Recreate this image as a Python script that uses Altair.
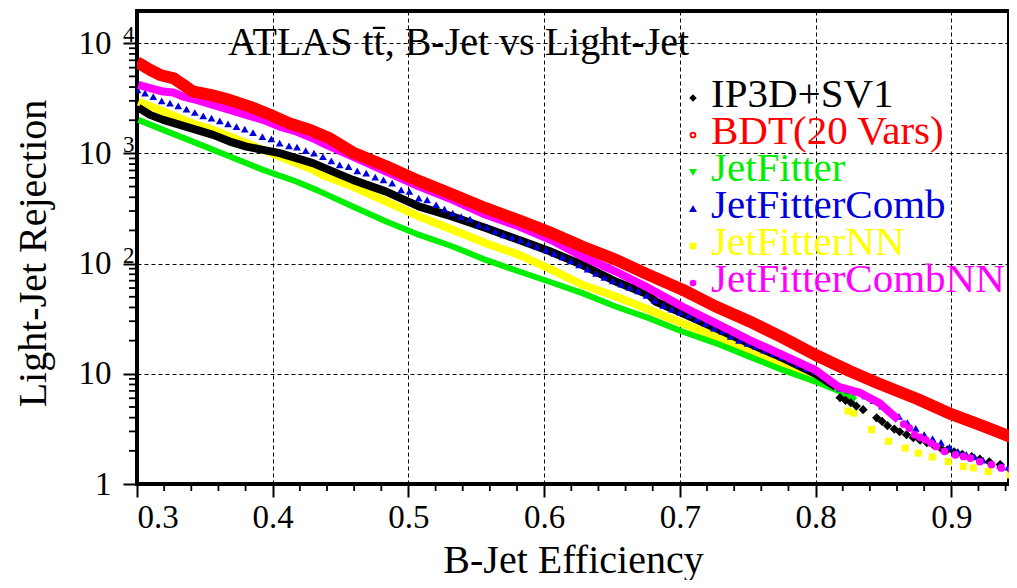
import altair as alt
import pandas as pd

FONT = "Liberation Serif"

# ---------------- data ----------------
# IP3D+SV1 (black): dense band, then sparse diamonds in the tail
ip3d_x = [0.301, 0.3096, 0.3193, 0.3316, 0.3439, 0.3561, 0.3684, 0.3806, 0.3929, 0.4051,
          0.4174, 0.4296, 0.4383, 0.459, 0.4836, 0.508, 0.5326, 0.557, 0.5816, 0.6037,
          0.628, 0.6527, 0.6772, 0.682, 0.7017, 0.7263, 0.7507, 0.7752, 0.800, 0.815]
ip3d_y = [2600, 2237, 2015, 1815, 1636, 1473, 1281, 1153, 1077, 1005,
          905, 816, 735, 575, 450, 329, 267, 210, 164, 130,
          97.5, 68.8, 52.2, 45.3, 35.6, 26.0, 19.0, 14.0, 10.0, 7.6]
ip3d_tail_x = [0.818, 0.822, 0.826, 0.830, 0.835, 0.845, 0.849, 0.853, 0.858, 0.862, 0.867,
               0.872, 0.877, 0.882, 0.887, 0.892, 0.897, 0.902, 0.908, 0.915, 0.921, 0.928,
               0.936, 0.945]
ip3d_tail_y = [6.07, 5.75, 5.46, 5.1, 4.72, 3.99, 3.7, 3.38, 3.15, 2.98, 2.8,
               2.63, 2.5, 2.37, 2.25, 2.13, 2.04, 1.96, 1.86, 1.77, 1.68, 1.59,
               1.5, 1.41]

# BDT(20 Vars) (red)
bdt_x = [0.300, 0.305, 0.310, 0.317, 0.327, 0.334, 0.341, 0.354, 0.368, 0.383,
         0.398, 0.412, 0.427, 0.442, 0.459, 0.484, 0.508, 0.533, 0.557, 0.582,
         0.606, 0.628, 0.653, 0.677, 0.702, 0.726, 0.751, 0.775, 0.800, 0.825,
         0.846, 0.875, 0.900, 0.925, 0.948]
bdt_y = [6700, 6200, 5700, 5150, 4800, 4200, 3650, 3400, 3060, 2660,
         2240, 1880, 1640, 1370, 1020, 760, 560, 421, 318, 245,
         188, 143, 108, 79, 58, 41, 30, 21.5, 14.8, 10.6,
         8.2, 5.9, 4.3, 3.3, 2.55]

# JetFitter (green)
jf_x = [0.301, 0.3193, 0.3439, 0.3684, 0.3929, 0.4174, 0.433, 0.459, 0.4836, 0.508,
        0.5326, 0.557, 0.5816, 0.605, 0.6282, 0.6527, 0.6772, 0.7017, 0.7263, 0.7507,
        0.7752, 0.7998, 0.817, 0.8294]
jf_y = [2015, 1634, 1239, 936, 709, 556, 462, 330, 241, 182,
        143, 108, 84.8, 67.7, 54.0, 40.8, 32.0, 24.2, 19.0, 14.4,
        10.9, 8.5, 7.0, 5.8]

# JetFitterComb (blue triangles)
jfc_x = [0.3004, 0.3059, 0.312, 0.3182, 0.3243, 0.3304, 0.3365, 0.3426, 0.3488, 0.3549,
         0.361, 0.3671, 0.3733, 0.3794, 0.3855, 0.3924, 0.399, 0.4051, 0.412, 0.4179,
         0.4243, 0.4304, 0.437, 0.4432, 0.4493, 0.4559, 0.4623, 0.4689, 0.4755, 0.4816,
         0.488, 0.4946, 0.5007, 0.5076, 0.5138, 0.5204, 0.5265, 0.5326, 0.5388, 0.5454,
         0.5517, 0.5579, 0.564, 0.5701, 0.5763, 0.5824, 0.5885, 0.5946, 0.6013, 0.6074,
         0.6135, 0.6196, 0.6258, 0.632, 0.6382, 0.6444, 0.6506, 0.6568, 0.663, 0.6692,
         0.6754, 0.6816, 0.6878, 0.694, 0.7002, 0.7064, 0.7126, 0.7188, 0.725, 0.7312,
         0.7374, 0.7436, 0.7498, 0.756, 0.7622, 0.7684, 0.7746, 0.7808, 0.787, 0.7932,
         0.7994, 0.8056, 0.8118, 0.818, 0.8242, 0.8304, 0.8366, 0.8428, 0.849, 0.8552,
         0.8614, 0.8676, 0.8738, 0.88, 0.8862, 0.8924, 0.8986, 0.9048, 0.911, 0.9172,
         0.9234, 0.9296, 0.9358, 0.942]
jfc_y = [3770, 3520, 3280, 3000, 2860, 2700, 2520, 2350, 2190, 2090,
         1970, 1855, 1750, 1660, 1545, 1420, 1355, 1240, 1170, 1140,
         1060, 1005, 936, 856, 787, 760, 695, 662, 609, 576,
         537, 467, 451, 393, 379, 342, 312, 287, 267, 253,
         225, 214, 196, 182, 174, 164, 153, 143, 133, 124,
         115, 106, 97.5, 89.1, 81.6, 74.8, 69.8, 65.2, 60.8, 56.6,
         51.5, 46.4, 41.8, 38.7, 36.2, 34.0, 31.4, 28.5, 25.9, 24.2,
         21.9, 20.1, 18.9, 17.7, 16.4, 15.3, 14.2, 13.3, 12.2, 11.2,
         10.5, 9.5, 8.5, 7.4, 7.1, 6.8, 6.3, 5.7, 5.1, 4.6,
         4.1, 3.6, 3.2, 2.8, 2.58, 2.39, 2.16, 1.98, 1.86, 1.76,
         1.65, 1.55, 1.48, 1.42]

# JetFitterNN (yellow): dense band, then sparse squares
jfnn_x = [0.301, 0.3193, 0.3316, 0.3439, 0.3561, 0.3684, 0.3806, 0.3929, 0.4051, 0.4174,
          0.4296, 0.4382, 0.459, 0.4836, 0.508, 0.5326, 0.557, 0.5816, 0.605, 0.6282,
          0.6527, 0.6772, 0.7017, 0.7263, 0.7507, 0.7752, 0.7998, 0.814]
jfnn_y = [2952, 2397, 2088, 1815, 1636, 1422, 1239, 1077, 936, 816,
          709, 626, 500, 366, 267, 203, 153, 120, 88.8, 64.2,
          50.3, 38.1, 28.8, 21.8, 16.5, 12.5, 9.8, 7.8]
jfnn_tail_x = [0.824, 0.828, 0.8412, 0.8537, 0.866, 0.8757, 0.886, 0.8978, 0.9088, 0.9162, 0.9272, 0.9434]
jfnn_tail_y = [4.6, 4.4, 3.11, 2.44, 2.12, 1.91, 1.76, 1.60, 1.44, 1.40, 1.30, 1.21]

# JetFitterCombNN (magenta): dense band, then circles
jfcnn_x = [0.301, 0.3096, 0.3193, 0.3267, 0.334, 0.3439, 0.3561, 0.3684, 0.3806, 0.3929,
           0.4051, 0.4174, 0.4296, 0.4395, 0.459, 0.4836, 0.508, 0.5326, 0.557, 0.5816,
           0.606, 0.628, 0.6527, 0.6772, 0.7017, 0.7263, 0.7507, 0.7752, 0.800, 0.817,
           0.833, 0.847, 0.854, 0.861]
jfcnn_y = [4190, 3910, 3640, 3565, 3280, 3060, 2755, 2485, 2240, 2015,
           1752, 1580, 1375, 1195, 936, 684, 500, 379, 277, 217,
           162, 116, 84.8, 59.9, 40.8, 28.8, 20.4, 14.9, 10.8, 7.6,
           6.7, 5.43, 4.55, 3.83]
jfcnn_tail_x = [0.865, 0.869, 0.873, 0.877, 0.881, 0.885, 0.889, 0.895, 0.903, 0.909, 0.914,
                0.921, 0.9296, 0.9368, 0.9443]
jfcnn_tail_y = [3.5, 3.22, 2.80, 2.65, 2.52, 2.35, 2.19, 1.98, 1.84, 1.78, 1.72,
                1.60, 1.50, 1.40, 1.35]

legend_names = ["IP3D+SV1", "BDT(20 Vars)", "JetFitter", "JetFitterComb", "JetFitterNN", "JetFitterCombNN"]
legend_colors = ["#000000", "#ff0000", "#00ee00", "#0000dd", "#ffff00", "#ff00ff"]
legend_fills = ["#000000", "#ffffff", "#00ee00", "#0000dd", "#ffff00", "#ff00ff"]
legend_shapes = ["diamond", "circle", "triangle-down", "triangle-up", "square", "circle"]

title_text = "ATLAS tt\u0304, B-Jet vs Light-Jet"

x_major = [0.3, 0.4, 0.5, 0.6, 0.7, 0.8, 0.9]
x_minor = [0.32, 0.34, 0.36, 0.38, 0.42, 0.44, 0.46, 0.48, 0.52, 0.54, 0.56, 0.58,
           0.62, 0.64, 0.66, 0.68, 0.72, 0.74, 0.76, 0.78, 0.82, 0.84, 0.86, 0.88,
           0.92, 0.94]
y_major = [1, 10, 100, 1000, 10000]
y_minor = [2, 3, 4, 5, 6, 7, 8, 9, 20, 30, 40, 50, 60, 70, 80, 90,
           200, 300, 400, 500, 600, 700, 800, 900, 2000, 3000, 4000, 5000, 6000, 7000, 8000, 9000]
exp_values = [10000, 1000, 100]
exp_labels = ["4", "3", "2"]

# ---------------- chart ----------------
# whole SVG = 1001 x 572 so that the page (8px margins) never overflows the 1017x588 window
W, H = 872, 473
LEG_TEXT_X, LEG_MARK_X, LEG_Y0, LEG_STEP = 574, 556, 96, 37


def frame(xs, ys):
    return pd.DataFrame({"eff": xs, "rej": ys})


X_DOMAIN = [0.3, 0.9425]
Y_DOMAIN = [1, 19600]

x_enc = alt.X("eff:Q", scale=alt.Scale(domain=X_DOMAIN, nice=False, zero=False),
              axis=alt.Axis(values=x_major, format=".1f", title="B-Jet Efficiency",
                            grid=True, gridDash=[4, 3], gridColor="#000", gridWidth=1,
                            gridOpacity=1, domain=False, ticks=True, tickSize=13,
                            tickWidth=2, tickColor="#000", tickOpacity=1,
                            labelFontSize=33, labelPadding=4,
                            labelColor="#000", labelFont=FONT, titleFont=FONT,
                            titleFontSize=40, titleFontWeight="normal", titleColor="#000",
                            titleX=436, titleY=88, titleBaseline="alphabetic",
                            titleAlign="center"))
y_enc = alt.Y("rej:Q", scale=alt.Scale(type="log", domain=Y_DOMAIN, nice=False),
              axis=alt.Axis(values=y_major, labelExpr="datum.value == 1 ? '1' : '10'",
                            title="Light-Jet Rejection", grid=True, gridDash=[4, 3],
                            gridColor="#000", gridWidth=1, gridOpacity=1, domain=False,
                            ticks=True, tickSize=14, tickWidth=2, tickColor="#000",
                            tickOpacity=1, labelFontSize=33, labelPadding=12,
                            labelColor="#000", labelFont=FONT, labelBaseline="middle",
                            titleFont=FONT, titleFontSize=40, titleFontWeight="normal",
                            titleColor="#000", titleAngle=-90, titleX=-92, titleY=242,
                            titleBaseline="alphabetic", titleAlign="center"))


def band(xs, ys, color, width):
    return alt.Chart(frame(xs, ys)).mark_line(
        color=color, strokeWidth=width, strokeJoin="round", strokeCap="butt", clip=True
    ).encode(x=x_enc, y=y_enc)


def dots(xs, ys, color, shape, size, filled=True):
    return alt.Chart(frame(xs, ys)).mark_point(
        color=color, shape=shape, size=size, filled=filled, opacity=1, strokeWidth=1.5,
        clip=True
    ).encode(x=x_enc, y=y_enc)


def yticks(values, length):
    return alt.Chart(pd.DataFrame({"rej": values})).mark_rule(color="#000", strokeWidth=1.8).encode(
        y=y_enc, x=alt.value(-length), x2=alt.value(0))


def xticks(values, length):
    return alt.Chart(pd.DataFrame({"eff": values})).mark_rule(color="#000", strokeWidth=1.8).encode(
        x=x_enc, y=alt.value(H), y2=alt.value(H + length))


exp_layer = alt.Chart(pd.DataFrame({"rej": exp_values, "lab": exp_labels})).mark_text(
    font=FONT, fontSize=23, align="left", baseline="alphabetic", dy=-1, color="#000"
).encode(x=alt.value(-14), y=y_enc, text="lab:N")

title_layer = alt.Chart(pd.DataFrame({"t": [title_text]})).mark_text(
    font=FONT, fontSize=40, align="left", baseline="alphabetic", color="#000"
).encode(x=alt.value(91), y=alt.value(44), text="t:N")

legend_layers = []
for i, name in enumerate(legend_names):
    d = pd.DataFrame({"name": [name]})
    legend_layers.append(
        alt.Chart(d).mark_text(font=FONT, fontSize=41, align="left", baseline="alphabetic",
                               color=legend_colors[i])
        .encode(x=alt.value(LEG_TEXT_X), y=alt.value(LEG_Y0 + LEG_STEP * i), text="name:N")
    )
    legend_layers.append(
        alt.Chart(d).mark_point(shape=legend_shapes[i], size=24, opacity=1, strokeWidth=1.8,
                                color=legend_colors[i], fill=legend_fills[i], filled=False)
        .encode(x=alt.value(LEG_MARK_X), y=alt.value(LEG_Y0 + LEG_STEP * i - 9))
    )

chart = alt.layer(
    yticks(y_minor, 8),
    xticks(x_minor, 7),
    band(jfnn_x, jfnn_y, "#ffff00", 8),
    dots(jfnn_tail_x, jfnn_tail_y, "#ffff00", "square", 50),
    band(jf_x, jf_y, "#00ee00", 6),
    band(ip3d_x, ip3d_y, "#000000", 8),
    dots(ip3d_tail_x, ip3d_tail_y, "#000000", "diamond", 85),
    dots(jfc_x, jfc_y, "#0000dd", "triangle-up", 60),
    band(jfcnn_x, jfcnn_y, "#ff00ff", 8),
    dots(jfcnn_tail_x, jfcnn_tail_y, "#ff00ff", "circle", 60),
    band(bdt_x, bdt_y, "#ff0000", 12),
    exp_layer,
    title_layer,
    *legend_layers,
).properties(
    width=W, height=H,
    padding={"left": 129, "top": 3, "right": 0, "bottom": 96},
    autosize=alt.AutoSizeParams(type="none"),
).configure_view(stroke="#000000", strokeWidth=4)

chart.save("out.html", embed_options={"renderer": "svg", "actions": False})
